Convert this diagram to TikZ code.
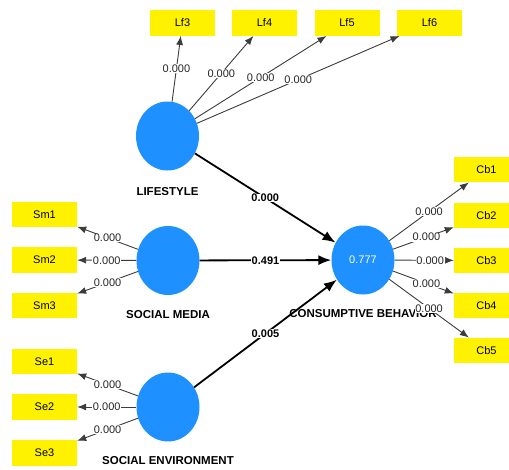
\documentclass[tikz,border=0pt]{standalone}
\usepackage{fontspec}
\setmainfont{Liberation Sans}
\usepackage{tikz}
\usetikzlibrary{arrows.meta,positioning,shapes.geometric}
\definecolor{latblue}{RGB}{30,144,255}
\definecolor{outgray}{RGB}{60,60,60}

\begin{document}
\begin{tikzpicture}[x=1pt,y=-1pt,
  latent/.style={ellipse,fill=latblue,minimum width=63pt,minimum height=69pt,inner sep=0pt,text=white,font=\fontsize{11}{13}\selectfont},
  indicator/.style={rectangle,fill=yellow,minimum width=65pt,minimum height=25.5pt,inner sep=0pt,font=\fontsize{11}{13}\selectfont},
  latname/.style={font=\bfseries\fontsize{11.5}{13}\selectfont,inner sep=1pt},
  loading/.style={draw=outgray,line width=0.9pt,-{Latex[length=9pt,width=7pt]}},
  lval/.style={fill=white,inner sep=0.6pt,font=\fontsize{11}{13}\selectfont,text=black!85},
  coef/.style={draw=black,line width=1.8pt,-{Latex[length=13pt,width=10pt]}},
  cval/.style={fill=white,inner sep=0.6pt,font=\bfseries\fontsize{11}{13}\selectfont}]
\useasboundingbox (0,0) rectangle (509,469);
% latent variables
\node[latent] (ls) at (167.5,136) {};
\node[latent] (sm) at (168,260.5) {};
\node[latent] (se) at (168,407) {};
\node[latent] (cb) at (363,260) {0.777};
\node[latname,below=16pt of ls] (lsname) {LIFESTYLE};
\node[latname,below=14pt of sm] (smname) {SOCIAL MEDIA};
\node[latname,below=13.5pt of se] (sename) {SOCIAL ENVIRONMENT};
\node[latname,below=13.5pt of cb] (cbname) {CONSUMPTIVE BEHAVIOR};
% indicators
\node[indicator] (lf3) at (182.5,23) {Lf3};
\node[indicator] (lf4) at (264.5,23) {Lf4};
\node[indicator] (lf5) at (347,23) {Lf5};
\node[indicator] (lf6) at (429.5,23) {Lf6};
\node[indicator] (sm1) at (44.5,214.5) {Sm1};
\node[indicator] (sm2) at (44.5,260) {Sm2};
\node[indicator] (sm3) at (44.5,305.5) {Sm3};
\node[indicator] (se1) at (44.5,361.5) {Se1};
\node[indicator] (se2) at (44.5,407) {Se2};
\node[indicator] (se3) at (44.5,453) {Se3};
\node[indicator] (cb1) at (486.5,169.5) {Cb1};
\node[indicator] (cb2) at (486.5,215.5) {Cb2};
\node[indicator] (cb3) at (486.5,260.5) {Cb3};
\node[indicator] (cb4) at (486.5,305.5) {Cb4};
\node[indicator] (cb5) at (486.5,350.5) {Cb5};
% outer loadings
\draw[loading] (ls) -- node[lval] {0.000} (lf3);
\draw[loading] (ls) -- node[lval] {0.000} (lf4);
\draw[loading] (ls) -- node[lval] {0.000} (lf5);
\draw[loading] (ls) -- node[lval] {0.000} (lf6);
\draw[loading] (sm) -- node[lval] {0.000} (sm1);
\draw[loading] (sm) -- node[lval] {0.000} (sm2);
\draw[loading] (sm) -- node[lval] {0.000} (sm3);
\draw[loading] (se) -- node[lval] {0.000} (se1);
\draw[loading] (se) -- node[lval] {0.000} (se2);
\draw[loading] (se) -- node[lval] {0.000} (se3);
\draw[loading] (cb) -- node[lval] {0.000} (cb1);
\draw[loading] (cb) -- node[lval,pos=0.55] {0.000} (cb2);
\draw[loading] (cb) -- node[lval,pos=0.6] {0.000} (cb3);
\draw[loading] (cb) -- node[lval,pos=0.55] {0.000} (cb4);
\draw[loading] (cb) -- node[lval] {0.000} (cb5);
% inner paths
\draw[coef] (ls) -- node[cval] {0.000} (cb);
\draw[coef] (sm) -- node[cval] {0.491} (cb);
\draw[coef] (se) -- node[cval] {0.005} (cb);
\end{tikzpicture}
\end{document}
